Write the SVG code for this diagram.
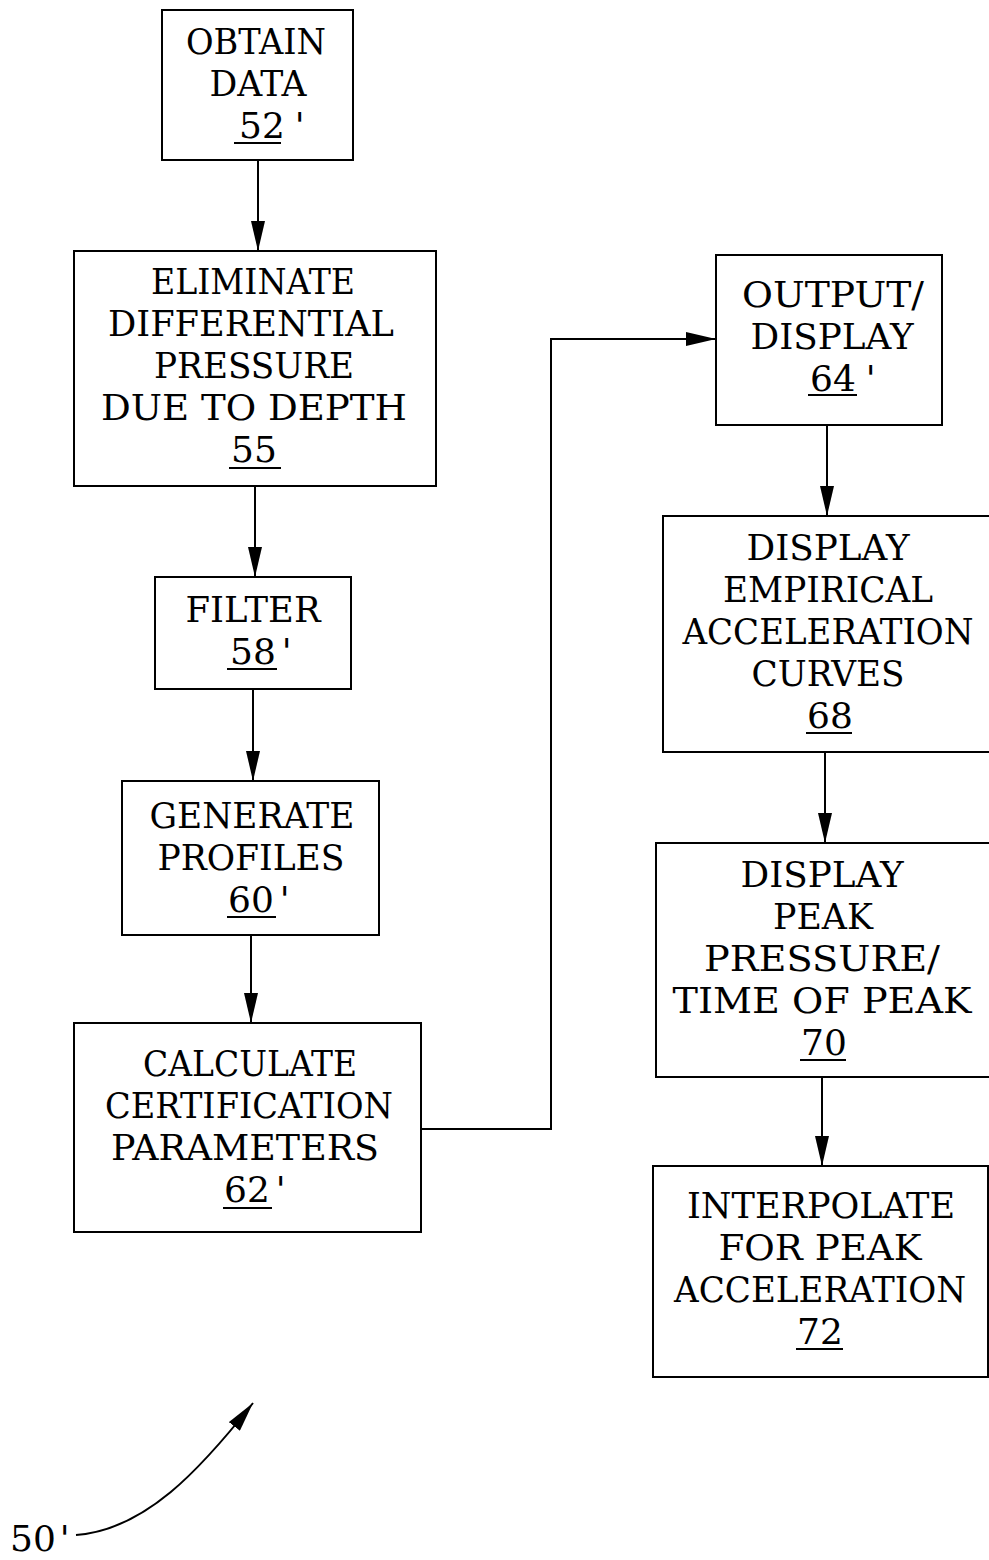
<svg xmlns="http://www.w3.org/2000/svg" width="989" height="1560" viewBox="0 0 989 1560">
<style>
.box{fill:none;stroke:#000;stroke-width:2}
.t{font-family:"DejaVu Serif","Liberation Serif",serif;font-size:36px;fill:#000;text-anchor:middle}
.n{font-family:"DejaVu Serif","Liberation Serif",serif;font-size:36px;fill:#000}
.u{stroke:#000;stroke-width:2}
.c{fill:none;stroke:#000;stroke-width:2}
</style>
<defs>
<marker id="ah" markerUnits="userSpaceOnUse" markerWidth="30" markerHeight="14" refX="30" refY="7" orient="auto">
<path d="M0,0 L30,7 L0,14 z" fill="#000"/>
</marker>
</defs>
<rect width="989" height="1560" fill="#fff"/>

<g id="connectors">
<line class="c" x1="258" y1="160" x2="258" y2="251" marker-end="url(#ah)"/>
<line class="c" x1="255" y1="486" x2="255" y2="577" marker-end="url(#ah)"/>
<line class="c" x1="253" y1="689" x2="253" y2="781" marker-end="url(#ah)"/>
<line class="c" x1="251" y1="935" x2="251" y2="1023" marker-end="url(#ah)"/>
<polyline class="c" points="421,1129 551,1129 551,339 716,339" marker-end="url(#ah)"/>
<line class="c" x1="827" y1="425" x2="827" y2="516" marker-end="url(#ah)"/>
<line class="c" x1="825" y1="752" x2="825" y2="843" marker-end="url(#ah)"/>
<line class="c" x1="822" y1="1077" x2="822" y2="1166" marker-end="url(#ah)"/>
<path class="c" d="M76,1535 C145,1530 200,1470 253,1403" marker-end="url(#ah)"/>
</g>

<g id="node52">
<rect class="box" x="162" y="10" width="191" height="150"/>
<text class="t" x="256" y="54" textLength="140" lengthAdjust="spacingAndGlyphs">OBTAIN</text>
<text class="t" x="258" y="96" textLength="97" lengthAdjust="spacingAndGlyphs">DATA</text>
<text class="n" x="239" y="138">52<tspan dx="10">'</tspan></text>
<line class="u" x1="234" y1="143" x2="281" y2="143"/>
</g>

<g id="node55">
<rect class="box" x="74" y="251" width="362" height="235"/>
<text class="t" x="253" y="294" textLength="204" lengthAdjust="spacingAndGlyphs">ELIMINATE</text>
<text class="t" x="251" y="336" textLength="286" lengthAdjust="spacingAndGlyphs">DIFFERENTIAL</text>
<text class="t" x="254" y="378" textLength="200" lengthAdjust="spacingAndGlyphs">PRESSURE</text>
<text class="t" x="254" y="420" textLength="306" lengthAdjust="spacingAndGlyphs">DUE TO DEPTH</text>
<text class="n" x="231" y="462">55</text>
<line class="u" x1="229" y1="468" x2="281" y2="468"/>
</g>

<g id="node58">
<rect class="box" x="155" y="577" width="196" height="112"/>
<text class="t" x="253" y="622" textLength="135" lengthAdjust="spacingAndGlyphs">FILTER</text>
<text class="n" x="230" y="664">58<tspan dx="6">'</tspan></text>
<line class="u" x1="227" y1="669" x2="277" y2="669"/>
</g>

<g id="node60">
<rect class="box" x="122" y="781" width="257" height="154"/>
<text class="t" x="252" y="828" textLength="205" lengthAdjust="spacingAndGlyphs">GENERATE</text>
<text class="t" x="251" y="870" textLength="187" lengthAdjust="spacingAndGlyphs">PROFILES</text>
<text class="n" x="228" y="912">60<tspan dx="6">'</tspan></text>
<line class="u" x1="227" y1="917" x2="276" y2="917"/>
</g>

<g id="node62">
<rect class="box" x="74" y="1023" width="347" height="209"/>
<text class="t" x="250" y="1076" textLength="214" lengthAdjust="spacingAndGlyphs">CALCULATE</text>
<text class="t" x="249" y="1118" textLength="288" lengthAdjust="spacingAndGlyphs">CERTIFICATION</text>
<text class="t" x="245" y="1160" textLength="268" lengthAdjust="spacingAndGlyphs">PARAMETERS</text>
<text class="n" x="224" y="1202">62<tspan dx="6">'</tspan></text>
<line class="u" x1="223" y1="1208" x2="272" y2="1208"/>
</g>

<g id="node64">
<rect class="box" x="716" y="255" width="226" height="170"/>
<text class="t" x="833" y="307" textLength="182" lengthAdjust="spacingAndGlyphs">OUTPUT/</text>
<text class="t" x="832" y="349" textLength="163" lengthAdjust="spacingAndGlyphs">DISPLAY</text>
<text class="n" x="810" y="391">64<tspan dx="10">'</tspan></text>
<line class="u" x1="808" y1="395" x2="857" y2="395"/>
</g>

<g id="node68">
<rect class="box" x="663" y="516" width="340" height="236"/>
<text class="t" x="828" y="560" textLength="163" lengthAdjust="spacingAndGlyphs">DISPLAY</text>
<text class="t" x="828" y="602" textLength="210" lengthAdjust="spacingAndGlyphs">EMPIRICAL</text>
<text class="t" x="828" y="644" textLength="291" lengthAdjust="spacingAndGlyphs">ACCELERATION</text>
<text class="t" x="828" y="686" textLength="153" lengthAdjust="spacingAndGlyphs">CURVES</text>
<text class="n" x="807" y="728">68</text>
<line class="u" x1="806" y1="733" x2="852" y2="733"/>
</g>

<g id="node70">
<rect class="box" x="656" y="843" width="347" height="234"/>
<text class="t" x="822" y="887" textLength="163" lengthAdjust="spacingAndGlyphs">DISPLAY</text>
<text class="t" x="823" y="929" textLength="100" lengthAdjust="spacingAndGlyphs">PEAK</text>
<text class="t" x="822" y="971" textLength="236" lengthAdjust="spacingAndGlyphs">PRESSURE/</text>
<text class="t" x="822" y="1013" textLength="299" lengthAdjust="spacingAndGlyphs">TIME OF PEAK</text>
<text class="n" x="801" y="1055">70</text>
<line class="u" x1="800" y1="1060" x2="846" y2="1060"/>
</g>

<g id="node72">
<rect class="box" x="653" y="1166" width="335" height="211"/>
<text class="t" x="821" y="1218" textLength="268" lengthAdjust="spacingAndGlyphs">INTERPOLATE</text>
<text class="t" x="820" y="1260" textLength="203" lengthAdjust="spacingAndGlyphs">FOR PEAK</text>
<text class="t" x="820" y="1302" textLength="292" lengthAdjust="spacingAndGlyphs">ACCELERATION</text>
<text class="n" x="797" y="1344">72</text>
<line class="u" x1="796" y1="1349" x2="843" y2="1349"/>
</g>

<g id="label50">
<text class="n" x="10" y="1551">50<tspan dx="4">'</tspan></text>
</g>
</svg>
